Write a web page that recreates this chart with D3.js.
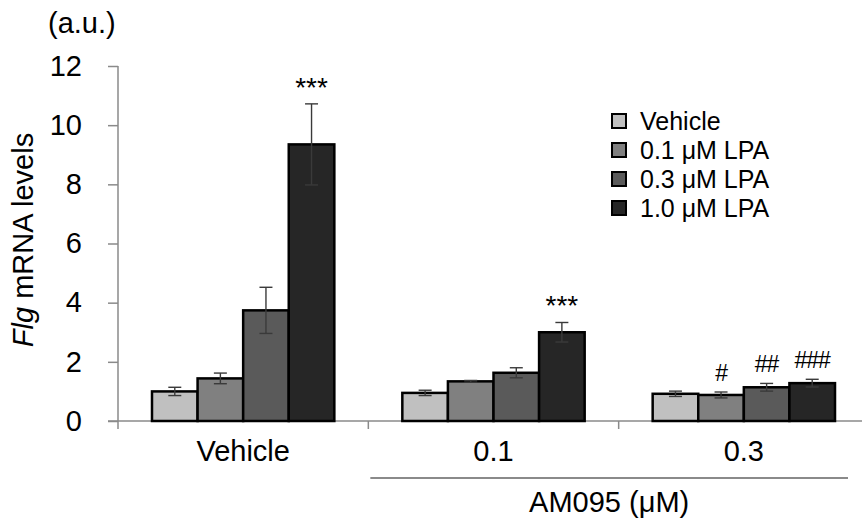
<!DOCTYPE html>
<html>
<head>
<meta charset="utf-8">
<script src="https://cdn.jsdelivr.net/npm/d3@7/dist/d3.min.js"></script>
<style>
  html, body { margin: 0; padding: 0; background: #fff; }
  svg { display: block; font-family: "Liberation Sans", Arial, sans-serif; }
</style>
</head>
<body>
<svg id="chart" width="862" height="523"></svg>
<script>
// AM095 pretreatment groups along the x axis
const categories = ["Vehicle", "0.1", "0.3"];
// LPA treatments within each group
const series = ["Vehicle", "0.1 μM LPA", "0.3 μM LPA", "1.0 μM LPA"];
const seriesColors = ["#c0c0c0", "#808080", "#5a5a5a", "#262626"];
// Mean Flg mRNA level per group, one entry per series
const meanVehicle = [1.00, 1.44, 3.74, 9.35];
const meanAM01    = [0.95, 1.34, 1.63, 3.00];
const meanAM03    = [0.92, 0.88, 1.14, 1.28];
// Error bar half-widths (SE)
const errVehicle = [0.14, 0.18, 0.78, 1.37];
const errAM01    = [0.09, 0.03, 0.17, 0.33];
const errAM03    = [0.09, 0.10, 0.13, 0.13];
// Significance marks over bars
const sigVehicle = ["", "", "", "***"];
const sigAM01    = ["", "", "", "***"];
const sigAM03    = ["", "#", "##", "###"];
const yTicks = [0, 2, 4, 6, 8, 10, 12];

const means = [meanVehicle, meanAM01, meanAM03];
const errs = [errVehicle, errAM01, errAM03];
const sigs = [sigVehicle, sigAM01, sigAM03];

const rows = [];
categories.forEach((c, ci) => {
  series.forEach((s, si) => {
    rows.push({ cat: c, ser: s, si, v: means[ci][si], e: errs[ci][si], sig: sigs[ci][si] });
  });
});

const svg = d3.select("#chart");
const axisColor = "#8a8a8a";
const x0 = d3.scaleBand().domain(categories).range([118, 869]).padding(0);
const groupPad = 34;
const x1 = d3.scaleBand().domain(series).range([groupPad, x0.bandwidth() - groupPad]).padding(0);
const y = d3.scaleLinear().domain([0, 12]).range([421, 66]);

// Y axis
const yAxis = svg.append("g").attr("transform", "translate(118,0)")
  .call(d3.axisLeft(y).tickValues(yTicks).tickSize(10).tickPadding(26).tickFormat(d3.format("d")));
yAxis.select(".domain").remove();
yAxis.selectAll(".tick line").attr("stroke", axisColor).attr("stroke-width", 1.5);
yAxis.selectAll(".tick text").attr("font-size", 29).attr("fill", "#000")
  .attr("font-family", "'Liberation Sans', Arial, sans-serif");
svg.append("line").attr("x1", 118).attr("x2", 118).attr("y1", y(12)).attr("y2", y(0) + 8)
  .attr("stroke", axisColor).attr("stroke-width", 1.5);

// X axis baseline and group separators
svg.append("line").attr("x1", 108).attr("x2", 862).attr("y1", y(0)).attr("y2", y(0))
  .attr("stroke", axisColor).attr("stroke-width", 1.5);
svg.selectAll("line.sep").data(categories.slice(1)).join("line").attr("class", "sep")
  .attr("x1", d => x0(d)).attr("x2", d => x0(d))
  .attr("y1", y(0)).attr("y2", y(0) + 8)
  .attr("stroke", axisColor).attr("stroke-width", 1.5);

// Category labels
svg.selectAll("text.cat").data(categories).join("text").attr("class", "cat")
  .attr("x", d => x0(d) + x0.bandwidth() / 2)
  .attr("y", 461)
  .attr("text-anchor", "middle").attr("font-size", 29).attr("fill", "#000")
  .text(d => d);

// Bracket for AM095 doses
svg.append("line")
  .attr("x1", x0(categories[1]) + 2).attr("x2", x0(categories[2]) + x0.bandwidth() - 21)
  .attr("y1", 478).attr("y2", 478)
  .attr("stroke", axisColor).attr("stroke-width", 2);
svg.append("text")
  .attr("x", (x0(categories[1]) + x0(categories[2]) + x0.bandwidth() - 19) / 2)
  .attr("y", 512).attr("text-anchor", "middle").attr("font-size", 29).attr("fill", "#000")
  .text("AM095 (μM)");

// Bars
const g = svg.append("g");
g.selectAll("rect.bar").data(rows).join("rect").attr("class", "bar")
  .attr("x", d => x0(d.cat) + x1(d.ser))
  .attr("y", d => y(d.v))
  .attr("width", x1.bandwidth())
  .attr("height", d => y(0) - y(d.v))
  .attr("fill", d => seriesColors[d.si])
  .attr("stroke", "#000").attr("stroke-width", 2.5);

// Error bars
const capW = 13;
const eb = g.selectAll("g.err").data(rows).join("g").attr("class", "err")
  .attr("stroke", "#3a3a3a").attr("stroke-width", 1.4);
eb.append("line")
  .attr("x1", d => x0(d.cat) + x1(d.ser) + x1.bandwidth() / 2)
  .attr("x2", d => x0(d.cat) + x1(d.ser) + x1.bandwidth() / 2)
  .attr("y1", d => y(d.v + d.e)).attr("y2", d => y(d.v - d.e));
eb.append("line")
  .attr("x1", d => x0(d.cat) + x1(d.ser) + x1.bandwidth() / 2 - capW / 2)
  .attr("x2", d => x0(d.cat) + x1(d.ser) + x1.bandwidth() / 2 + capW / 2)
  .attr("y1", d => y(d.v + d.e)).attr("y2", d => y(d.v + d.e));
eb.append("line")
  .attr("x1", d => x0(d.cat) + x1(d.ser) + x1.bandwidth() / 2 - capW / 2)
  .attr("x2", d => x0(d.cat) + x1(d.ser) + x1.bandwidth() / 2 + capW / 2)
  .attr("y1", d => y(d.v - d.e)).attr("y2", d => y(d.v - d.e));

// Significance marks
const isStar = d => d.sig.startsWith("*");
g.selectAll("text.sig").data(rows.filter(d => d.sig)).join("text").attr("class", "sig")
  .attr("x", d => x0(d.cat) + x1(d.ser) + x1.bandwidth() / 2)
  .attr("y", d => y(d.v + d.e) - (isStar(d) ? 7 : 11))
  .attr("text-anchor", "middle")
  .attr("font-size", d => isStar(d) ? 28 : 23)
  .attr("letter-spacing", d => isStar(d) ? 0 : -1)
  .attr("fill", "#000")
  .text(d => d.sig);

// Y axis title
const yt = svg.append("text")
  .attr("transform", "translate(33,240) rotate(-90)")
  .attr("text-anchor", "middle").attr("font-size", 29).attr("fill", "#000");
yt.append("tspan").attr("font-style", "italic").text("Flg");
yt.append("tspan").text(" mRNA levels");

// Unit label
svg.append("text").attr("x", 48).attr("y", 33).attr("font-size", 29).attr("fill", "#000").text("(a.u.)");

// Legend
const legend = svg.append("g").attr("transform", "translate(612,0)");
const lg = legend.selectAll("g").data(series).join("g")
  .attr("transform", (d, i) => `translate(0,${121 + i * 29})`);
lg.append("rect").attr("x", 0).attr("y", -7).attr("width", 14).attr("height", 14)
  .attr("fill", (d, i) => seriesColors[i]).attr("stroke", "#000").attr("stroke-width", 2);
lg.append("text").attr("x", 28).attr("y", 9).attr("font-size", 25).attr("fill", "#000").text(d => d);
</script>
</body>
</html>
